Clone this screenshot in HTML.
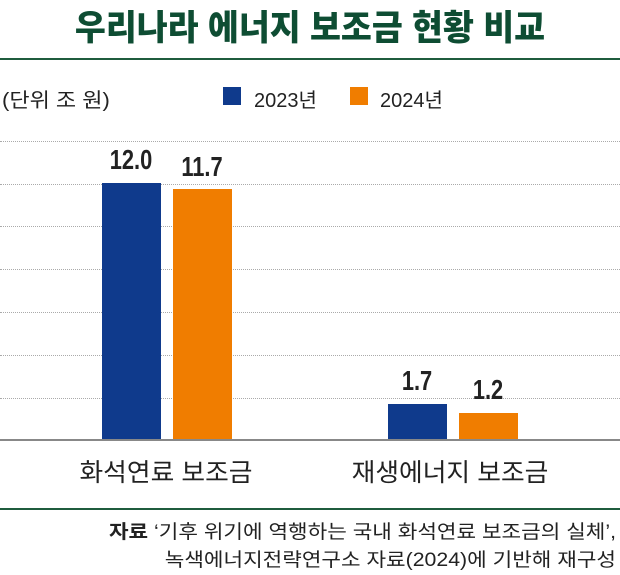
<!DOCTYPE html>
<html><head><meta charset="utf-8"><style>
body{margin:0;background:#fff;width:620px;height:574px;position:relative;overflow:hidden;font-family:"Liberation Sans","Noto Sans CJK KR",sans-serif;color:#222}
.a{position:absolute;white-space:nowrap}
.grid{position:absolute;left:0;width:620px;border-top:1px dotted #aaa;height:0}
.num{position:absolute;font-size:28px;font-weight:bold;transform:scaleX(0.78);text-align:center;width:80px;color:#222}
</style></head><body>
<div class="a" style="left:0;width:620px;text-align:center;top:0px;font-size:35px;font-weight:900;color:#0e4d33;transform:scaleX(0.96)">우리나라 에너지 보조금 현황 비교</div>
<div class="a" style="left:0;top:58px;width:620px;height:2px;background:#1f5c3e"></div>
<div class="a" style="left:2px;top:84px;font-size:20px;transform:scaleX(1.1);transform-origin:left">(단위 조 원)</div>
<div class="a" style="left:223px;top:87px;width:18px;height:18px;background:#0f3a8c"></div>
<div class="a" style="left:254px;top:84px;font-size:20px">2023년</div>
<div class="a" style="left:350px;top:87px;width:18px;height:18px;background:#f07d00"></div>
<div class="a" style="left:380px;top:84px;font-size:20px">2024년</div>
<div class="grid" style="top:141px"></div>
<div class="grid" style="top:184px"></div>
<div class="grid" style="top:226px"></div>
<div class="grid" style="top:269px"></div>
<div class="grid" style="top:312px"></div>
<div class="grid" style="top:355px"></div>
<div class="grid" style="top:398px"></div>
<div class="a" style="left:102px;top:183px;width:59px;height:257px;background:#0f3a8c"></div>
<div class="a" style="left:173px;top:189px;width:59px;height:251px;background:#f07d00"></div>
<div class="a" style="left:388px;top:404px;width:59px;height:36px;background:#0f3a8c"></div>
<div class="a" style="left:459px;top:413px;width:59px;height:27px;background:#f07d00"></div>
<div class="a" style="left:0;top:439px;width:620px;height:2px;background:#888"></div>
<div class="num" style="left:91px;top:144px">12.0</div>
<div class="num" style="left:162px;top:151px">11.7</div>
<div class="num" style="left:377px;top:365px">1.7</div>
<div class="num" style="left:448px;top:374px">1.2</div>
<div class="a" style="left:66px;top:453px;font-size:25px;width:200px;text-align:center;transform:scaleX(1.03)">화석연료 보조금</div>
<div class="a" style="left:350px;top:453px;font-size:25px;width:200px;text-align:center;transform:scaleX(1.03)">재생에너지 보조금</div>
<div class="a" style="left:0;top:508px;width:620px;height:2px;background:#1f5c3e"></div>
<div class="a" style="right:4px;top:519px;font-size:19px;text-align:right;line-height:28px;transform:scaleX(1.12);transform-origin:right">&nbsp;<b>자료</b> ‘기후 위기에 역행하는 국내 화석연료 보조금의 실체’,<br>녹색에너지전략연구소 자료(2024)에 기반해 재구성</div>
</body></html>
